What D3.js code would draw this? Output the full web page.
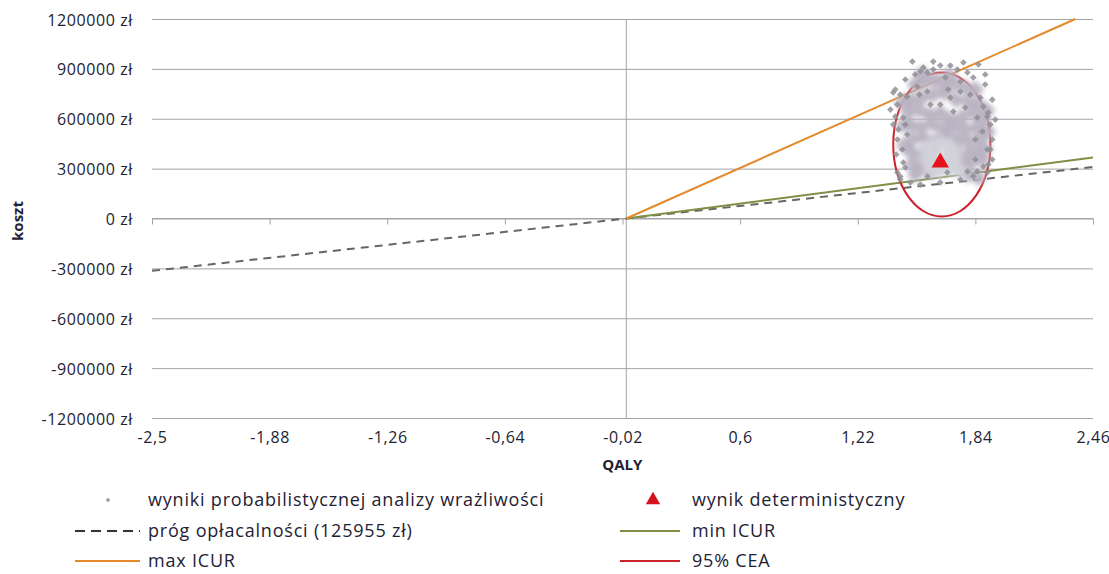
<!DOCTYPE html>
<html>
<head>
<meta charset="utf-8">
<script src="https://cdn.jsdelivr.net/npm/d3@7"></script>
<style>
  html, body { margin: 0; padding: 0; background: #fff; }
  svg { display: block; }
  text { font-family: "Open Sans", "Liberation Sans", sans-serif; fill: #1e2234; }
</style>
</head>
<body>
<svg id="chart" width="1109" height="574"></svg>
<script>
// ---------- DATA ----------
const xTickValues = [-2.5, -1.88, -1.26, -0.64, -0.02, 0.6, 1.22, 1.84, 2.46];
const xTickLabels = ["-2,5", "-1,88", "-1,26", "-0,64", "-0,02", "0,6", "1,22", "1,84", "2,46"];
const yTickValues = [1200000, 900000, 600000, 300000, 0, -300000, -600000, -900000, -1200000];
const yTickLabels = ["1200000 zł", "900000 zł", "600000 zł", "300000 zł", "0 zł", "-300000 zł", "-600000 zł", "-900000 zł", "-1200000 zł"];

// PSA results (outer, clearly visible markers)
const psaQaly = [1.508,1.618,1.566,1.618,1.587,1.682,1.745,1.798,1.856,1.829,1.761,1.534,1.418,1.444,1.481,1.761,1.813,1.866,1.882,1.908,1.919,1.877,1.429,1.460,1.434,1.481,1.708,1.724,1.655,1.603,1.787,1.850,1.407,1.418,1.429,1.455,1.460,1.429,1.444,1.444,1.497,1.550,1.903,1.929,1.903,1.929,1.882,1.850,1.903,1.587,1.692,1.798,1.829,1.523,1.708,1.892,1.471,1.840,1.545,1.919,
  1.471,1.550,1.655,1.777,1.892,1.929,1.945,1.392,1.407,1.423,1.471,1.761,1.655,1.908,1.840,1.697,1.587];
const psaCost = [944000,944000,908000,896000,878000,848000,896000,878000,926000,848000,824000,794000,776000,745000,733000,764000,745000,727000,673000,637000,565000,523000,685000,607000,535000,505000,727000,643000,685000,685000,667000,607000,758000,613000,475000,415000,337000,277000,253000,234000,216000,204000,613000,475000,415000,355000,313000,283000,277000,253000,277000,283000,253000,866000,920000,806000,565000,475000,745000,415000,
  836000,884000,920000,938000,866000,715000,595000,655000,565000,385000,307000,234000,216000,325000,355000,776000,764000];
// PSA results (dense core of the cloud)
const psaCoreQaly = [1.523,1.576,1.629,1.682,1.734,1.787,1.840,1.497,1.560,1.618,1.676,1.740,1.803,1.856,1.487,1.539,1.597,1.655,1.708,1.771,1.829,1.882,1.497,1.550,1.613,1.671,1.724,1.787,1.845,1.508,1.566,1.629,1.687,1.750,1.808,1.866,1.497,1.555,1.613,1.734,1.803,1.856,1.508,1.560,1.761,1.824,1.877,1.523,1.603,1.803,1.856,
  1.455,1.460,1.465,1.900,1.905,1.890,1.560,1.700];
const psaCoreCost = [806000,824000,836000,800000,812000,788000,776000,715000,727000,745000,758000,715000,703000,685000,643000,655000,625000,637000,595000,613000,637000,595000,565000,547000,571000,535000,559000,535000,547000,475000,487000,463000,493000,475000,457000,487000,403000,385000,415000,415000,385000,403000,325000,307000,325000,343000,355000,265000,283000,265000,246000,
  700000,560000,440000,650000,520000,420000,870000,860000];
// PSA results (densest area around the deterministic result)
const psaHaloQaly = [1.576,1.613,1.655,1.697,1.734,1.587,1.629,1.682,1.724,1.603,1.655,1.708,1.761];
const psaHaloCost = [415000,445000,457000,439000,403000,355000,367000,367000,343000,295000,283000,295000,283000];

// deterministic result
const detQaly = [1.655];
const detCost = [337000];

// willingness-to-pay threshold line (125955 zł / QALY)
const thrQaly = [-2.5, 2.46];
const thrCost = [-314888, 309849];
// min ICUR
const minQaly = [0, 2.46];
const minCost = [0, 367000];
// max ICUR
const maxQaly = [0, 2.367];
const maxCost = [0, 1200000];
// 95% CEA ellipse (points read around the contour)
const ceaQaly = [1.919,1.900,1.844,1.761,1.663,1.565,1.482,1.426,1.407,1.426,1.482,1.565,1.663,1.761,1.844,1.900];
const ceaCost = [445000,611000,751000,845000,878000,845000,751000,611000,445000,279000,139000,45000,12000,45000,139000,279000];

const legendLabels = ["wyniki probabilistycznej analizy wrażliwości", "wynik deterministyczny", "próg opłacalności (125955 zł)", "min ICUR", "max ICUR", "95% CEA"];
const xTitle = "QALY";
const yTitle = "koszt";

// ---------- CHART ----------
const svg = d3.select("#chart");
const pLeft = 152, pRight = 1093, pTop = 19, pBottom = 418;
const x = d3.scaleLinear().domain([-2.5, 2.46]).range([pLeft, pRight]);
const y = d3.scaleLinear().domain([-1200000, 1200000]).range([pBottom, pTop]);

const colGrid = "#a3a3a8";
const colThr = "#666860";
const colMin = "#7d9044";
const colMax = "#e58a2c";
const colCea = "#cc2229";
const colPsa = "#8f8f97";

const defs = svg.append("defs");
defs.append("filter").attr("id", "soft").attr("x", "-20%").attr("y", "-20%").attr("width", "140%").attr("height", "140%")
  .append("feGaussianBlur").attr("stdDeviation", 2.5);

// horizontal gridlines + y labels
const yAxis = d3.axisLeft(y).tickValues(yTickValues)
  .tickSize(-(pRight - pLeft)).tickPadding(18)
  .tickFormat((d, i) => yTickLabels[i]);
const gy = svg.append("g").attr("transform", `translate(${pLeft},0)`).call(yAxis);
gy.select(".domain").remove();
gy.selectAll(".tick line").attr("stroke", colGrid).attr("stroke-width", 1);
gy.selectAll(".tick text").attr("font-size", 16).attr("letter-spacing", "0.6px")
  .attr("fill", "#1e2234").attr("dy", "0.38em").attr("x", -19);

// vertical axis line at x = 0
svg.append("line").attr("x1", x(0)).attr("x2", x(0)).attr("y1", pTop).attr("y2", pBottom)
  .attr("stroke", colGrid).attr("stroke-width", 1);

// x axis line at y=0 with ticks
const xAxisTicks = d3.axisBottom(x).tickValues(xTickValues).tickSize(6).tickFormat("");
const gx0 = svg.append("g").attr("transform", `translate(0,${y(0)})`).call(xAxisTicks);
gx0.select(".domain").attr("stroke", colGrid).attr("d", `M${pLeft},0H${pRight}`);
gx0.selectAll(".tick line").attr("stroke", colGrid);

// x labels at the bottom
const xAxisLabels = d3.axisBottom(x).tickValues(xTickValues).tickSize(0).tickPadding(14)
  .tickFormat((d, i) => xTickLabels[i]);
const gxl = svg.append("g").attr("transform", `translate(0,${pBottom})`).call(xAxisLabels);
gxl.select(".domain").remove();
gxl.selectAll(".tick text").attr("font-size", 16).attr("letter-spacing", "0.6px").attr("fill", "#1e2234");

// axis titles
svg.append("text").attr("x", x(0) - 4).attr("y", 470).attr("text-anchor", "middle")
  .attr("font-size", 15).attr("font-weight", "bold").text(xTitle);
svg.append("text").attr("transform", `translate(23,221) rotate(-90)`).attr("text-anchor", "middle")
  .attr("font-size", 15).attr("font-weight", "bold").text(yTitle);

const line = d3.line().x(d => x(d[0])).y(d => y(d[1]));
const zip = (a, b) => a.map((v, i) => [v, b[i]]);

// series lines
svg.append("path").attr("d", line(zip(thrQaly, thrCost))).attr("fill", "none")
  .attr("stroke", colThr).attr("stroke-width", 2).attr("stroke-dasharray", "8,6");
svg.append("path").attr("d", line(zip(minQaly, minCost))).attr("fill", "none")
  .attr("stroke", colMin).attr("stroke-width", 2);
svg.append("path").attr("d", line(zip(maxQaly, maxCost))).attr("fill", "none")
  .attr("stroke", colMax).attr("stroke-width", 2);
const ellipseLine = d3.line().x(d => x(d[0])).y(d => y(d[1])).curve(d3.curveCardinalClosed);
svg.append("path").attr("d", ellipseLine(zip(ceaQaly, ceaCost))).attr("fill", "none")
  .attr("stroke", colCea).attr("stroke-width", 2);

// PSA cloud
const sq = (s) => d3.symbol().type(d3.symbolSquare).size(s)();
const cloud = svg.append("g");
cloud.append("g").attr("filter", "url(#soft)").selectAll("path").data(zip(psaCoreQaly, psaCoreCost)).join("path")
  .attr("d", sq(160)).attr("transform", d => `translate(${x(d[0])},${y(d[1])}) rotate(45)`)
  .attr("fill", "#b8b2c2").attr("opacity", 0.95);
cloud.append("g").attr("filter", "url(#soft)").selectAll("path").data(zip(psaHaloQaly, psaHaloCost)).join("path")
  .attr("d", sq(150)).attr("transform", d => `translate(${x(d[0])},${y(d[1])}) rotate(45)`)
  .attr("fill", "#d2d2da").attr("opacity", 0.95);
cloud.append("g").selectAll("path").data(zip(psaQaly, psaCost)).join("path")
  .attr("d", sq(22)).attr("transform", d => `translate(${x(d[0])},${y(d[1])}) rotate(45)`)
  .attr("fill", colPsa).attr("opacity", 0.85);

// deterministic result
const tri = d3.symbol().type(d3.symbolTriangle).size(130)();
svg.append("g").selectAll("path").data(zip(detQaly, detCost)).join("path")
  .attr("d", tri).attr("transform", d => `translate(${x(d[0])},${y(d[1])})`)
  .attr("fill", "#e8121b");

// ---------- LEGEND ----------
const lg = svg.append("g");
const rowY = [500, 531, 561];
const colTextX = [148, 692];
const fs = 18;
const ls = "0.8px";
const addText = (tx, ty, s) => lg.append("text").attr("x", tx).attr("y", ty).attr("dy", "0.33em")
  .attr("font-size", fs).attr("letter-spacing", ls).text(s);
// row 1
lg.append("path").attr("d", sq(10)).attr("transform", `translate(108,${rowY[0]}) rotate(45)`).attr("fill", "#9a9aa0");
addText(colTextX[0], rowY[0], legendLabels[0]);
lg.append("path").attr("d", d3.symbol().type(d3.symbolTriangle).size(90)()).attr("transform", `translate(653,${rowY[0]})`).attr("fill", "#d4141c");
addText(colTextX[1], rowY[0], legendLabels[1]);
// row 2
lg.append("line").attr("x1", 75).attr("x2", 140).attr("y1", rowY[1]).attr("y2", rowY[1])
  .attr("stroke", "#2f3328").attr("stroke-width", 2).attr("stroke-dasharray", "10,6");
addText(colTextX[0], rowY[1], legendLabels[2]);
lg.append("line").attr("x1", 620).attr("x2", 680).attr("y1", rowY[1]).attr("y2", rowY[1])
  .attr("stroke", colMin).attr("stroke-width", 2);
addText(colTextX[1], rowY[1], legendLabels[3]);
// row 3
lg.append("line").attr("x1", 75).attr("x2", 140).attr("y1", rowY[2]).attr("y2", rowY[2])
  .attr("stroke", colMax).attr("stroke-width", 2);
addText(colTextX[0], rowY[2], legendLabels[4]);
lg.append("line").attr("x1", 620).attr("x2", 680).attr("y1", rowY[2]).attr("y2", rowY[2])
  .attr("stroke", colCea).attr("stroke-width", 2);
addText(colTextX[1], rowY[2], legendLabels[5]);
</script>
</body>
</html>
